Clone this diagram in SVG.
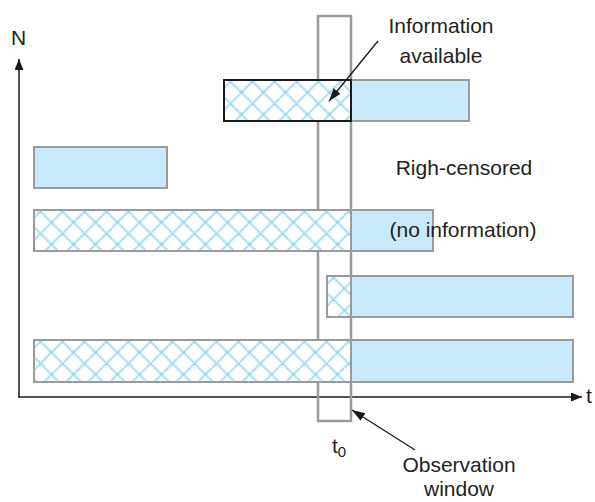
<svg xmlns="http://www.w3.org/2000/svg" width="595" height="502" viewBox="0 0 595 502">
<style>
text{font-family:"Liberation Sans",Arial,sans-serif;font-size:21px;fill:#231f20}
.solid{fill:#c7e9f9;stroke:#9a9a9a;stroke-width:2}
.hatch{fill:url(#hx);stroke:#9a9a9a;stroke-width:2}
.hatchk{fill:url(#hx);stroke:#1a1a1a;stroke-width:2}
.axis{stroke:#1a1a1a;stroke-width:1.5;fill:none}
.call{stroke:#1a1a1a;stroke-width:1.3;fill:none}
</style>
<defs>
<pattern id="hx" patternUnits="userSpaceOnUse" x="6.5" y="1.5" width="22" height="22">
<rect width="22" height="22" fill="#fff"/>
<path d="M-2,-2 L24,24 M24,-2 L-2,24" stroke="#84d2f2" stroke-width="1.8" stroke-dasharray="2.4 0.6"/>
</pattern>
<marker id="ah" markerUnits="userSpaceOnUse" markerWidth="12" markerHeight="10" refX="11" refY="4.5" orient="auto">
<path d="M0,0 L11,4.5 L0,9 z" fill="#1a1a1a"/>
</marker>
<marker id="ah2" markerUnits="userSpaceOnUse" markerWidth="14" markerHeight="10" refX="13" refY="4.5" orient="auto">
<path d="M0,0 L13,4.5 L0,9 z" fill="#1a1a1a"/>
</marker>
</defs>

<g id="axes">
<line class="axis" x1="19" y1="397" x2="19" y2="59" marker-end="url(#ah)"/>
<line class="axis" x1="18" y1="397" x2="582" y2="397" marker-end="url(#ah)"/>
<text x="586" y="403">t</text>
<text x="11" y="45">N</text>
</g>

<g id="window">
<rect x="318" y="16" width="33" height="405" fill="none" stroke="#9a9a9a" stroke-width="2.5"/>
<text x="332" y="453">t<tspan font-size="15" dy="4">0</tspan></text>
</g>

<g id="row1">
<g transform="translate(224,80)"><rect class="hatchk" x="0" y="0" width="127" height="41"/></g>
<rect class="solid" x="351" y="80" width="118" height="41"/>
<rect x="224" y="80" width="127" height="41" fill="none" stroke="#1a1a1a" stroke-width="2"/>
</g>

<g id="row2">
<rect class="solid" x="34" y="147" width="133" height="41"/>
</g>

<g id="row3">
<g transform="translate(34,210)"><rect class="hatch" x="0" y="0" width="317" height="41"/></g>
<rect class="solid" x="351" y="210" width="82" height="41"/>
</g>

<g id="row4">
<g transform="translate(327,276)"><rect class="hatch" x="0" y="0" width="24" height="41"/></g>
<rect class="solid" x="351" y="276" width="222" height="41"/>
</g>

<g id="row5">
<g transform="translate(34,340)"><rect class="hatch" x="0" y="0" width="317" height="42"/></g>
<rect class="solid" x="351" y="340" width="222" height="42"/>
</g>

<g id="labels">
<text x="441" y="33" text-anchor="middle">Information</text>
<text x="441" y="63" text-anchor="middle">available</text>
<text x="464" y="175" text-anchor="middle">Righ-censored</text>
<text x="463" y="237" text-anchor="middle">(no information)</text>
<text x="459" y="472" text-anchor="middle">Observation</text>
<text x="459" y="496" text-anchor="middle">window</text>
</g>

<g id="connectors">
<line class="call" x1="378" y1="41" x2="329" y2="101" marker-end="url(#ah2)"/>
<line class="call" x1="415" y1="450" x2="352" y2="410" marker-end="url(#ah2)"/>
</g>
</svg>
